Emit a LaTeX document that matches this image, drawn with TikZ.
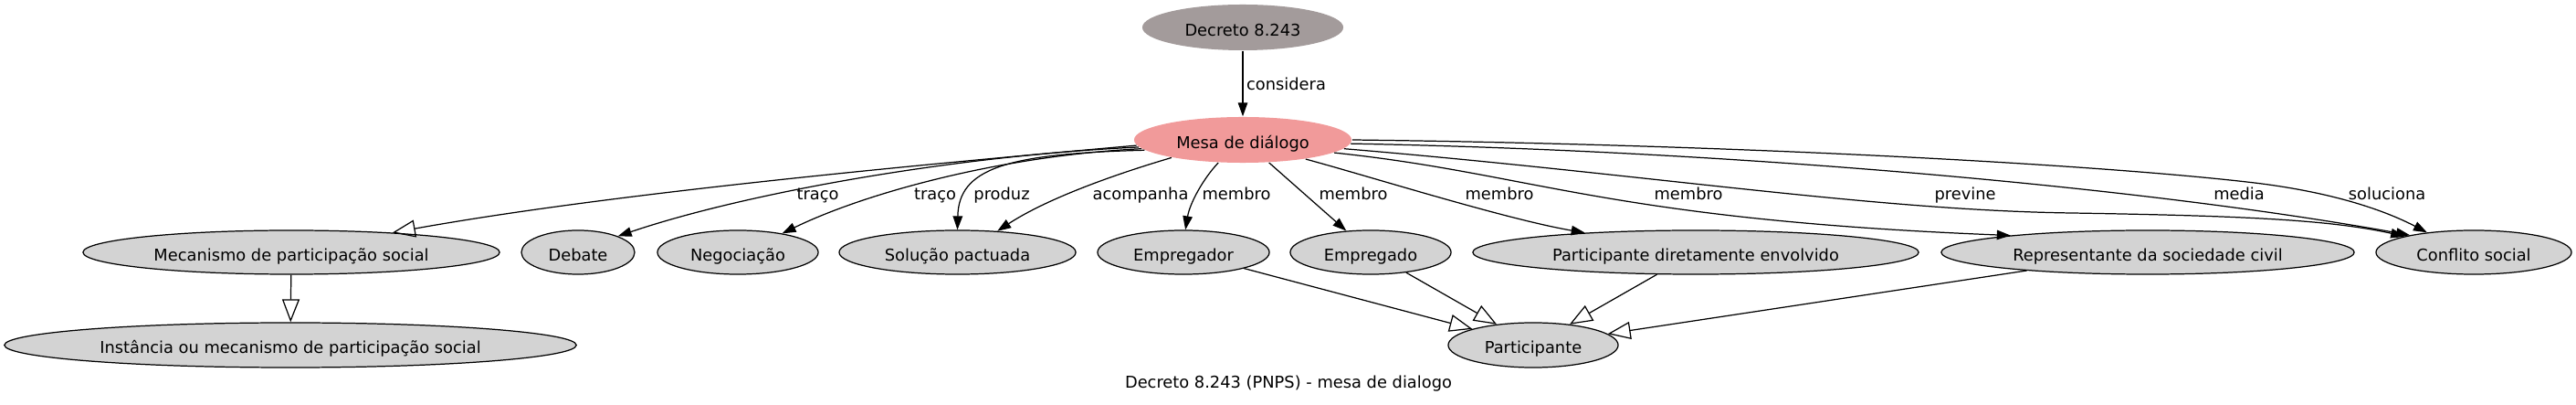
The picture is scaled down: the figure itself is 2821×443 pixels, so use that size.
\documentclass[tikz,border=0pt]{standalone}
\usepackage{fontspec}
\setmainfont{DejaVu Sans}
\usetikzlibrary{arrows.meta,shapes.geometric}
\definecolor{grayfill}{RGB}{211,211,211}
\definecolor{decfill}{RGB}{163,155,155}
\definecolor{mesafill}{RGB}{241,154,154}
\begin{document}
\begin{tikzpicture}[x=0.01cm,y=-0.01cm,
  every node/.style={font=\fontsize{5.07pt}{6pt}\selectfont},
  ent/.style={ellipse, draw=black, line width=0.35pt, fill=grayfill, inner sep=0pt,
    minimum height=0.48cm, text height=0.72em, text depth=0.2em},
  topent/.style={ellipse, inner sep=0pt, minimum height=0.5cm, text height=0.72em, text depth=0.2em},
  lbl/.style={inner sep=0pt, anchor=base},
  farr/.style={line width=0.35pt, -{Triangle[length=0.15cm,width=0.105cm]}},
  harr/.style={line width=0.35pt, -{Triangle[open,length=0.25cm,width=0.19cm]}}
]
\useasboundingbox (0,0) rectangle (2821,443);

% nodes
\node[topent, fill=decfill, minimum width=2.20cm] (decreto) at (1361,30) {Decreto 8.243};
\node[topent, fill=mesafill, minimum width=2.38cm] (mesa) at (1361,153) {Mesa de diálogo};

\node[ent, minimum width=4.56cm] (mec) at (319,276) {Mecanismo de participação social};
\node[ent, minimum width=6.26cm, minimum height=0.49cm] (inst) at (318,377.5) {Instância ou mecanismo de participação social};
\node[ent, minimum width=1.24cm] (debate) at (633,276) {Debate};
\node[ent, minimum width=1.76cm] (neg) at (808,276) {Negociação};
\node[ent, minimum width=2.59cm] (sol) at (1048.5,276) {Solução pactuada};
\node[ent, minimum width=1.88cm] (empr) at (1296,276) {Empregador};
\node[ent, minimum width=1.76cm] (empd) at (1501,276) {Empregado};
\node[ent, minimum width=4.88cm] (pde) at (1857,276) {Participante diretamente envolvido};
\node[ent, minimum width=4.52cm] (rep) at (2352,276) {Representante da sociedade civil};
\node[ent, minimum width=2.14cm] (conf) at (2709,276) {Conflito social};
\node[ent, minimum width=1.86cm, minimum height=0.49cm] (part) at (1679,377.5) {Participante};

% edge labels
\node[lbl] (l1) at (895.5,219) {traço};
\node[lbl] (l2) at (1024,219) {traço};
\node[lbl] (l3) at (1097,219) {produz};
\node[lbl] (l4) at (1249,219) {acompanha};
\node[lbl] (l5) at (1354,219) {membro};
\node[lbl] (l6) at (1482,219) {membro};
\node[lbl] (l7) at (1642,219) {membro};
\node[lbl] (l8) at (1849,219) {membro};
\node[lbl] (l9) at (2152,219) {previne};
\node[lbl] (l10) at (2452,219) {media};
\node[lbl] (l11) at (2614,219) {soluciona};

% caption
\node[lbl] (cap) at (1411,425) {Decreto 8.243 (PNPS) - mesa de dialogo};

% edges
\draw[farr] (decreto) -- node[anchor=west, inner sep=1pt] (l0) {considera} (mesa);

\draw[harr] (mesa.183) .. controls (950,185) and (650,215) .. (mec.11);
\draw[harr] (mec) -- (inst);

\draw[farr] (mesa.184) .. controls (1050,170) and (820,210) .. (debate.22);
\draw[farr] (mesa.185) .. controls (1100,170) and (950,210) .. (neg.23);
\draw[farr] (mesa.186) .. controls (1100,168) and (1050,185) .. (sol.90);
\draw[farr] (mesa.194) .. controls (1230,188) and (1150,215) .. (sol.28);
\draw[farr] (mesa.223) .. controls (1318,195) and (1303,222) .. (empr.85);
\draw[farr] (mesa.319) -- (empd);
\draw[farr] (mesa.343) .. controls (1500,193) and (1650,240) .. (pde.170);
\draw[farr] (mesa.352) .. controls (1680,190) and (1760,240) .. (rep.173);
\draw[farr] (mesa.355) .. controls (1800,190) and (2050,230) .. (2269,233)
   .. controls (2450,236) and (2550,240) .. (conf.167);
\draw[farr] (mesa.358) .. controls (1900,165) and (2350,205) .. (conf.165);
\draw[farr] (mesa.0) .. controls (1900,158) and (2300,180) .. (2469,200)
   .. controls (2560,211) and (2615,232) .. (conf.157);

\draw[harr] (empr) -- (part);
\draw[harr] (empd) -- (part);
\draw[harr] (pde) -- (part);
\draw[harr] (rep) -- (part);
\end{tikzpicture}
\end{document}
